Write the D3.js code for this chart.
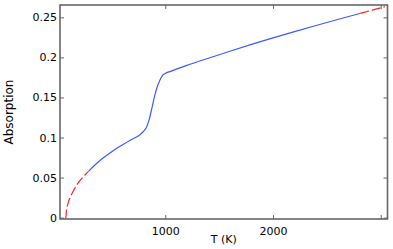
<!DOCTYPE html>
<html><head><meta charset="utf-8">
<script src="https://cdn.jsdelivr.net/npm/d3@7"></script>
<style>
html,body{margin:0;padding:0;background:#fff;}
svg{display:block;}
text{font-family:"DejaVu Sans",sans-serif;font-size:11px;fill:#000;}
</style></head><body>
<script>
// Data
const tempLow = [70, 78, 82, 90, 100, 120, 150, 190, 240, 285];
const absLow  = [0, 0, 0.008, 0.014, 0.019, 0.026, 0.034, 0.043, 0.051, 0.0575];
const tempMid = [285, 350, 400, 500, 580, 680, 765, 800, 825, 850, 875, 900, 925, 950, 975, 1000, 1050, 1200, 1400, 1600, 1800, 2000, 2200, 2400, 2600, 2810];
const absMid  = [0.0575, 0.066, 0.072, 0.082, 0.089, 0.097, 0.1035, 0.108, 0.1125, 0.122, 0.136, 0.151, 0.163, 0.1715, 0.1775, 0.1800, 0.1826, 0.1900, 0.1990, 0.2077, 0.2162, 0.2244, 0.2322, 0.2398, 0.2473, 0.2550];
const tempHigh = [2810, 2920, 3040];
const absHigh  = [0.2550, 0.2590, 0.2633];
const xTicks = [1000, 2000, 3000];
const xTickLabels = ["1000", "2000", ""];
const yTicks = [0, 0.05, 0.1, 0.15, 0.2, 0.25];
const yTickLabels = ["0", "0.05", "0.1", "0.15", "0.2", "0.25"];

const W = 393, H = 249;
const L = 60, R = 387.5, T = 5, B = 219;
const svg = d3.select("body").append("svg").attr("width", W).attr("height", H);

const x = d3.scaleLinear().domain([23, 3063]).range([L, R]);
const y = d3.scaleLinear().domain([-0.0017, 0.2654]).range([B, T]);

const axisColor = "#666";
function styleAxis(g){
  g.select(".domain").remove();
  g.selectAll(".tick line").attr("stroke", axisColor).attr("stroke-width", 1);
  g.selectAll(".tick text").attr("fill", "#000").style("font-size", "11px").style("font-family", "DejaVu Sans, sans-serif");
}
// bottom
svg.append("g").attr("transform", `translate(0,${B})`)
  .call(d3.axisBottom(x).tickValues(xTicks).tickSize(-4).tickPadding(8).tickFormat((d,i)=>xTickLabels[i]))
  .call(styleAxis);
// top
svg.append("g").attr("transform", `translate(0,${T})`)
  .call(d3.axisTop(x).tickValues(xTicks).tickSize(-4).tickFormat(""))
  .call(styleAxis);
// left
svg.append("g").attr("transform", `translate(${L},0)`)
  .call(d3.axisLeft(y).tickValues(yTicks).tickSize(-4).tickPadding(3).tickFormat((d,i)=>yTickLabels[i]))
  .call(styleAxis);
// right
svg.append("g").attr("transform", `translate(${R},0)`)
  .call(d3.axisRight(y).tickValues(yTicks).tickSize(-4).tickFormat(""))
  .call(styleAxis);

// frame
svg.append("rect").attr("x", L).attr("y", T).attr("width", R-L).attr("height", B-T)
  .attr("fill", "none").attr("stroke", axisColor).attr("stroke-width", 1.6);

const line = d3.line().x(d=>x(d[0])).y(d=>y(d[1])).curve(d3.curveMonotoneX);
const zip = (a,b)=>a.map((v,i)=>[v,b[i]]);

svg.append("path").datum(zip(tempMid, absMid)).attr("d", line)
  .attr("fill", "none").attr("stroke", "#3b5bff").attr("stroke-width", 1.2);
svg.append("path").datum(zip(tempLow, absLow)).attr("d", line)
  .attr("fill", "none").attr("stroke", "#ff2020").attr("stroke-width", 1.2).attr("stroke-dasharray", "9,3");
svg.append("path").datum(zip(tempHigh, absHigh)).attr("d", line)
  .attr("fill", "none").attr("stroke", "#ff2020").attr("stroke-width", 1.2).attr("stroke-dasharray", "9,3");

// axis titles
svg.append("text").attr("x", (L+R)/2).attr("y", 243).attr("text-anchor", "middle").text("T (K)");
svg.append("text").attr("transform", `translate(12.5,${(T+B)/2}) rotate(-90)`).attr("text-anchor", "middle")
  .style("font-size", "12px").text("Absorption");
</script>
</body></html>
